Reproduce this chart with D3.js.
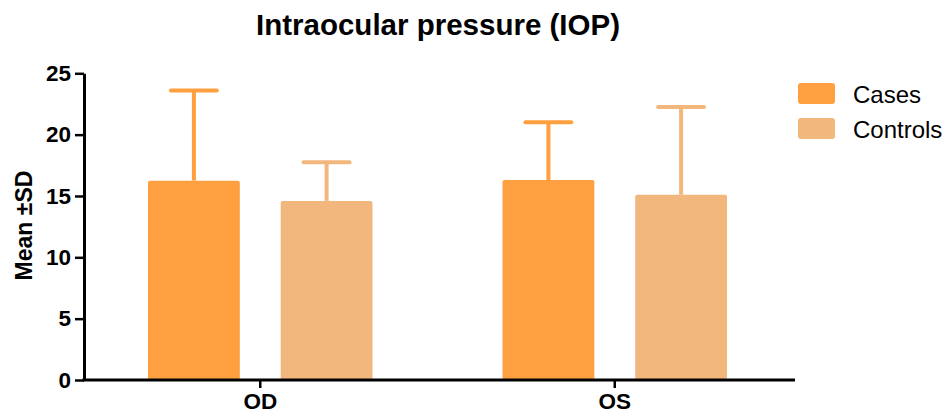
<!DOCTYPE html>
<html>
<head>
<meta charset="utf-8">
<script src="https://cdn.jsdelivr.net/npm/d3@7/dist/d3.min.js"></script>
<style>
  html, body { margin: 0; padding: 0; background: #fff; }
  svg { display: block; font-family: "Liberation Sans", Arial, Helvetica, sans-serif; }
</style>
</head>
<body>
<svg id="chart" width="949" height="419"></svg>
<script>
// Intraocular pressure, mean ± SD per eye
const groups = ["OD", "OS"];
const series = ["Cases", "Controls"];
const casesMean = [16.25, 16.3];
const casesSD = [7.35, 4.7];
const controlsMean = [14.6, 15.1];
const controlsSD = [3.15, 7.15];
const yTicks = [0, 5, 10, 15, 20, 25];
const colors = { Cases: "#FFA040", Controls: "#F2B77D" };

const rows = [];
groups.forEach((g, i) => {
  rows.push({ group: g, series: "Cases", mean: casesMean[i], sd: casesSD[i] });
  rows.push({ group: g, series: "Controls", mean: controlsMean[i], sd: controlsSD[i] });
});

const svg = d3.select("#chart");

const y = d3.scaleLinear().domain([0, 25]).range([380, 73.3]);
const x = d3.scaleBand().domain(groups).range([83, 792]).padding(0);
const xs = d3.scaleBand().domain(series).range([0, x.bandwidth()])
  .paddingInner(0.308).paddingOuter(0.49);

// Title
svg.append("text")
  .attr("x", 438).attr("y", 35)
  .attr("text-anchor", "middle")
  .style("font-weight", "bold").style("font-size", "29.5px")
  .text("Intraocular pressure (IOP)");

// Y axis label
svg.append("text")
  .attr("transform", "translate(32,225.5) rotate(-90)")
  .attr("text-anchor", "middle")
  .style("font-weight", "bold").style("font-size", "23px")
  .text("Mean ±SD");

// Bars
const bars = svg.append("g");
bars.selectAll("rect").data(rows).join("rect")
  .attr("x", d => x(d.group) + xs(d.series))
  .attr("width", xs.bandwidth())
  .attr("y", d => y(d.mean))
  .attr("height", d => y(0) - y(d.mean))
  .attr("rx", 2)
  .attr("fill", d => colors[d.series]);

// Error bars (upper SD only)
const err = svg.append("g");
err.selectAll("line.stem").data(rows).join("line")
  .attr("class", "stem")
  .attr("x1", d => x(d.group) + xs(d.series) + xs.bandwidth() / 2)
  .attr("x2", d => x(d.group) + xs(d.series) + xs.bandwidth() / 2)
  .attr("y1", d => y(d.mean))
  .attr("y2", d => y(d.mean + d.sd))
  .attr("stroke", d => colors[d.series])
  .attr("stroke-width", 4);
err.selectAll("line.cap").data(rows).join("line")
  .attr("class", "cap")
  .attr("x1", d => x(d.group) + xs(d.series) + xs.bandwidth() / 4)
  .attr("x2", d => x(d.group) + xs(d.series) + xs.bandwidth() * 3 / 4)
  .attr("y1", d => y(d.mean + d.sd))
  .attr("y2", d => y(d.mean + d.sd))
  .attr("stroke", d => colors[d.series])
  .attr("stroke-width", 4)
  .attr("stroke-linecap", "round");

// Y axis
const yAxis = svg.append("g")
  .attr("transform", "translate(84,0)")
  .call(d3.axisLeft(y).tickValues(yTicks).tickSize(9).tickPadding(4).tickSizeOuter(0));
yAxis.select(".domain").attr("stroke", "#000").attr("stroke-width", 3);
yAxis.selectAll(".tick line").attr("stroke", "#000").attr("stroke-width", 2.5);
yAxis.selectAll(".tick text")
  .attr("fill", "#000")
  .style("font-weight", "bold").style("font-size", "22.5px")
  .style("font-family", "'Liberation Sans', Arial, sans-serif");

// X axis
const xAxis = svg.append("g")
  .attr("transform", "translate(0,380)")
  .call(d3.axisBottom(x).tickSize(8).tickPadding(5).tickSizeOuter(0));
xAxis.select(".domain").remove();
xAxis.append("line")
  .attr("x1", 82.5).attr("x2", 795)
  .attr("y1", 0).attr("y2", 0)
  .attr("stroke", "#000").attr("stroke-width", 3);
xAxis.selectAll(".tick line").attr("stroke", "#000").attr("stroke-width", 2.5);
xAxis.selectAll(".tick text")
  .attr("fill", "#000")
  .attr("dy", "0.71em")
  .style("font-weight", "bold").style("font-size", "22.5px")
  .style("font-family", "'Liberation Sans', Arial, sans-serif");

// Legend
const legend = svg.append("g").attr("transform", "translate(798,83)");
const item = legend.selectAll("g").data(series).join("g")
  .attr("transform", (d, i) => `translate(0,${i * 35})`);
item.append("rect")
  .attr("width", 37).attr("height", 21).attr("rx", 3)
  .attr("fill", d => colors[d]);
item.append("text")
  .attr("x", 55).attr("y", 20)
  .style("font-size", "24px")
  .text(d => d);
</script>
</body>
</html>
